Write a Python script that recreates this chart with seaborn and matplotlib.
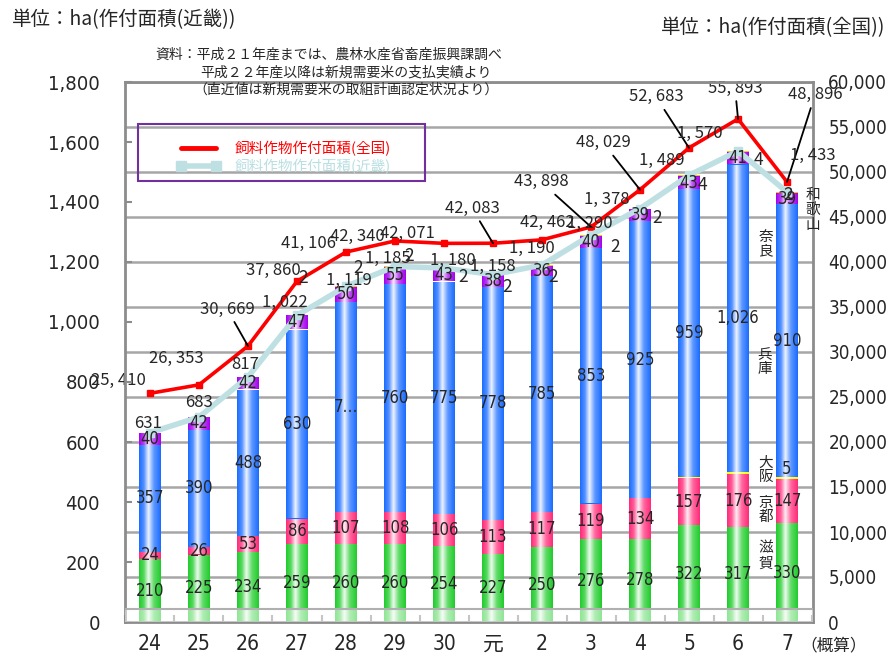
import matplotlib
matplotlib.use("Agg")
import matplotlib.pyplot as plt
from matplotlib.colors import LinearSegmentedColormap, to_rgb
from matplotlib.lines import Line2D
from matplotlib.patches import Rectangle
import numpy as np
import pandas as pd
import seaborn as sns

sns.set_style("white")
plt.rcParams["font.family"] = ["Noto Sans CJK JP", "DejaVu Sans"]
# condensed digits for tick and bar labels
NARROW = dict(family=["DejaVu Sans", "Noto Sans CJK JP"], stretch="condensed")

# data (ha)
years = ['24', '25', '26', '27', '28', '29', '30', '元', '2', '3', '4', '5', '6', '7']
shiga = [210, 225, 234, 259, 260, 260, 254, 227, 250, 276, 278, 322, 317, 330]
kyoto = [24, 26, 53, 86, 107, 108, 106, 113, 117, 119, 134, 157, 176, 147]
osaka = [0, 0, 0, 0, 0, 0, 0, 0, 0, 0, 0, 4, 6, 5]
hyogo = [357, 390, 488, 630, 700, 760, 775, 778, 785, 853, 925, 959, 1026, 910]
nara = [40, 42, 42, 47, 50, 55, 43, 38, 36, 40, 39, 43, 41, 39]
wakayama = [0, 0, 0, 2, 2, 2, 2, 2, 2, 2, 2, 4, 4, 2]
kinki_total = [631, 683, 817, 1022, 1119, 1185, 1180, 1158, 1190, 1290, 1378, 1489, 1570, 1433]
national = [25410, 26353, 30669, 37860, 41106, 42340, 42071, 42083, 42462, 43898,
            48029, 52683, 55893, 48896]

# label offsets in pixels (dx right, dy up)
nat_off = [(-32, 13), (-23, 26), (-21, 37), (-24, 11), (-38, 9), (-38, 4), (-37, 10),
           (-21, 35), (5, 17), (-50, 45), (-37, 47), (-33, 51), (-3, 31), (28, 87)]
nat_leader = [False, False, True, False, False, False, False,
              True, False, True, True, True, True, True]
kin_off = [(-2, 9), (0, 15), (-3, 12), (-12, 13), (3, 6), (-7, 8), (9, 8),
           (0, 8), (-10, 17), (-1, 12), (-33, 9), (-27, 15), (-38, 18), (26, 37)]
wak_off = [(0, 0), (0, 0), (0, 0), (6, 37), (12, 18), (14, 10), (19, -9),
           (14, -12), (11, -12), (24, -12), (17, -9), (13, -10), (20, -9), (1, -3)]

colors = {'滋賀': '#1fcc2a', '京都': '#ff2a78', '大阪': '#ffff00',
          '兵庫': '#1a6cff', '奈良': '#a300ee', '和歌山': '#ffc000'}
layers = [('滋賀', shiga), ('京都', kyoto), ('大阪', osaka),
          ('兵庫', hyogo), ('奈良', nara), ('和歌山', wakayama)]

fig = plt.figure(figsize=(8.92, 6.59), dpi=100)
ax = fig.add_axes([125 / 892, 1 - 622 / 659, 688 / 892, 540 / 659])
ax2 = ax.twinx()
ax.set_zorder(ax2.get_zorder() + 1)
ax.patch.set_visible(False)

bottom = np.zeros(len(years))
for name, vals in layers:
    df = pd.DataFrame({'year': years, 'ha': vals})
    sns.barplot(data=df, x='year', y='ha', color=colors[name], saturation=1,
                width=0.43, bottom=bottom.copy(), linewidth=0, errorbar=None,
                ax=ax, zorder=2)
    bottom += np.array(vals)

# cylinder-like shading on each bar segment
for p in list(ax.patches):
    h = p.get_height()
    if h <= 0:
        continue
    c = np.array(to_rgb(p.get_facecolor()))
    w = np.ones(3)
    cmap = LinearSegmentedColormap.from_list(
        'cyl', [(0, c), (0.22, c * 0.75 + w * 0.25), (0.43, c * 0.08 + w * 0.92),
                (0.68, c * 0.7 + w * 0.3), (1, c)])
    grad = np.linspace(0, 1, 64).reshape(1, -1)
    im = ax.imshow(grad, extent=[p.get_x(), p.get_x() + p.get_width(), p.get_y(), p.get_y() + h],
                   cmap=cmap, aspect='auto', interpolation='bilinear', zorder=2.1)
    im.set_clip_path(p)

ax.set_xlim(-0.51, 13.53)
ax.set_ylim(0, 1800)
ax2.set_ylim(0, 60000)

# floor of the 3D-like chart
ax.axhspan(0, 43, color='white', alpha=0.5, lw=0, zorder=3)
ax.axhline(43, color='#b0b0b0', lw=1.5, zorder=3)

# kinki total line
x = np.arange(len(years))
ax.plot(x, kinki_total, color='#bfe0e2', lw=4, marker='s', ms=6, zorder=4)
# national line
ax2.plot(x, national, color='#ff0000', lw=2.6, marker='s', ms=4.5, zorder=4)


def px(o):
    return (o[0] * 0.72, o[1] * 0.72)


for i in range(len(years)):
    # segment labels
    segs = [(shiga[i], 0), (kyoto[i], shiga[i]), (hyogo[i], shiga[i] + kyoto[i] + osaka[i]),
            (nara[i], shiga[i] + kyoto[i] + osaka[i] + hyogo[i])]
    for k, (v, b) in enumerate(segs):
        txt = f"{v:,}"
        if k == 2 and years[i] == '28':
            txt = '7…'
        ax.text(i, b + v / 2, txt, ha='center', va='center', fontsize=12,
                zorder=5, **NARROW)
    if osaka[i] and years[i] == '7':
        ax.text(i, shiga[i] + kyoto[i] + osaka[i] + 28, str(osaka[i]), ha='center',
                va='center', fontsize=12, zorder=5, **NARROW)
    if wakayama[i]:
        ax.annotate(str(wakayama[i]), (i, kinki_total[i]), xytext=px(wak_off[i]),
                    textcoords='offset points', ha='center', va='center',
                    fontsize=12.5, zorder=5)
    ax.annotate(f"{kinki_total[i]:,}".replace(',', ', '), (i, kinki_total[i]),
                xytext=px(kin_off[i]), textcoords='offset points', ha='center',
                va='center', fontsize=12, zorder=5)
    arrow = dict(arrowstyle='-', color='black', lw=1.3, shrinkA=1, shrinkB=0) if nat_leader[i] else None
    ax2.annotate(f"{national[i]:,}".replace(',', ', '), (i, national[i]),
                 xytext=px(nat_off[i]), textcoords='offset points', ha='center',
                 va='center', fontsize=12, arrowprops=arrow, zorder=5)

# axes styling
for s in ['left', 'right', 'top', 'bottom']:
    ax.spines[s].set_color('#8c8c8c')
    ax.spines[s].set_linewidth(2)
    ax2.spines[s].set_visible(False)
ax.set_yticks(range(0, 1801, 200))
ax.set_yticklabels([f"{v:,}" for v in range(0, 1801, 200)], fontsize=14.5, **NARROW)
ax.tick_params(axis='y', direction='in', length=5, width=1.5, color='#8c8c8c', pad=18, left=True)
ax.set_xticks(x)
ax.set_xticklabels(years, fontsize=15, **NARROW)
ax.tick_params(axis='x', length=0, pad=9)
ax.set_xticks(np.arange(-0.5, 14, 1), minor=True)
ax.tick_params(axis='x', which='minor', direction='in', length=5, width=1.5,
               color='#8c8c8c', bottom=True)
ax.set_xlabel('')
ax.set_ylabel('')

ax2.set_yticks(range(0, 60001, 5000))
ax2.set_yticklabels([f"{v:,}" for v in range(0, 60001, 5000)], fontsize=13.5, **NARROW)
ax2.tick_params(axis='y', length=0, pad=11)
ax2.yaxis.grid(True, color='#a6a6a6', lw=1.8)
ax2.set_axisbelow(True)
ax2.set_ylabel('')

# legend
ax.add_patch(Rectangle((13 / 688, (622 - 181) / 540), 287 / 688, 57 / 540,
                       transform=ax.transAxes, fill=False, edgecolor='#7030a0',
                       lw=1.5, zorder=6))
handles = [Line2D([], [], color='#ff0000', lw=3.5),
           Line2D([], [], color='#bfe0e2', lw=4, marker='s', ms=7)]
ax.legend(handles, ['飼料作物作付面積(全国)', '飼料作物作付面積(近畿)'],
          loc='upper left', bbox_to_anchor=(44 / 688, (622 - 134) / 540),
          frameon=False, borderpad=0, handlelength=3.0, handletextpad=1.0,
          labelspacing=0.15, fontsize=10.5, numpoints=2,
          labelcolor=['#ff0000', '#b9dfe2'])


# side labels for prefectures
def ftext(xp, yp, s, **kw):
    fig.text(xp / 892, 1 - yp / 659, s, **kw)


side = dict(ha='center', va='center', fontsize=10.5, linespacing=1.05)
ftext(813, 210, '和\n歌\n山', **side)
ftext(766, 244, '奈\n良', **side)
ftext(765, 362, '兵\n庫', **side)
ftext(766, 470, '大\n阪', **side)
ftext(766, 510, '京\n都', **side)
ftext(766, 556, '滋\n賀', **side)

# titles / units / source
ftext(12, 20, '単位：ha(作付面積(近畿))', ha='left', va='center', fontsize=14)
ftext(885, 28, '単位：ha(作付面積(全国))', ha='right', va='center', fontsize=14)
ftext(155, 55, '資料：平成２１年産までは、農林水産省畜産振興課調べ', ha='left', va='center', fontsize=10)
ftext(200, 72, '平成２２年産以降は新規需要米の支払実績より', ha='left', va='center', fontsize=10)
ftext(193, 90, '（直近値は新規需要米の取組計画認定状況より）', ha='left', va='center', fontsize=10)
ftext(800, 646, '（概算）', ha='left', va='center', fontsize=12)

fig.savefig('out.png', dpi=100)
